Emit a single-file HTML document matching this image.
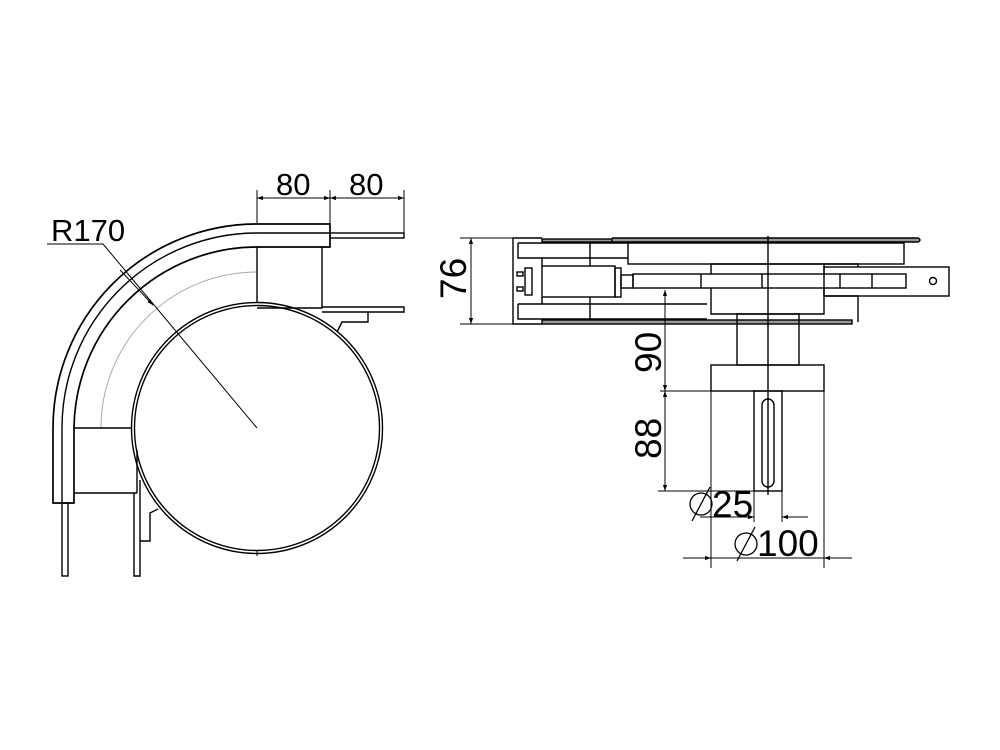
<!DOCTYPE html>
<html><head><meta charset="utf-8"><style>
html,body{margin:0;padding:0;background:#fff}
svg{display:block}
text{font-family:"Liberation Sans",sans-serif;fill:#000}
</style></head><body>
<svg width="1000" height="750" viewBox="0 0 1000 750" xmlns="http://www.w3.org/2000/svg">
<defs>
<marker id="a" viewBox="0 0 10 10" refX="10" refY="5" markerWidth="10" markerHeight="6" orient="auto-start-reverse" markerUnits="userSpaceOnUse"><path d="M0,1.5 L10,5 L0,8.5 z" fill="#000"/></marker>
</defs>
<g fill="none" stroke="#000" stroke-width="1.4">
<!-- LEFT VIEW -->
<path d="M53,503 L53,428 A204,204 0 0 1 257,224 L330,224 L330,247 L257,247 A183,183 0 0 0 74,428 L74,503 Z" stroke-width="1.7"/>
<path d="M62,503 L62,428 A195,195 0 0 1 257,233 L330,233"/>
<path d="M101,428 A156,156 0 0 1 257,272" stroke="#aaa" stroke-width="1"/>
<circle cx="257" cy="428" r="125.5"/>
<circle cx="257" cy="428" r="122.5"/>
<line x1="257" y1="247" x2="257" y2="303"/>
<path d="M322,247 L322,308 L257,308"/>
<rect x="330" y="233" width="74" height="5"/>
<path d="M322,307 L404,307 L404,312 L322,312"/>
<path d="M368,312 L368,322 L342,322 L337,332"/>
<path d="M74,428 L132,428 M74,493 L137,493 M137,450 L137,493"/>
<rect x="62" y="503" width="6" height="73"/>
<path d="M134,493 L134,576 L140,576 L140,480"/>
<path d="M140,541 L150,541 L150,513 L158,509"/>
<line x1="257" y1="550" x2="257" y2="556" stroke-width="1"/>
<!-- dims left -->
<line x1="257" y1="190" x2="257" y2="223" stroke-width="1"/>
<line x1="330" y1="190" x2="330" y2="223" stroke-width="1"/>
<line x1="404" y1="190" x2="404" y2="233" stroke-width="1"/>
<line x1="257" y1="198" x2="330" y2="198" stroke-width="1" marker-start="url(#a)" marker-end="url(#a)"/>
<line x1="330" y1="198" x2="404" y2="198" stroke-width="1" marker-start="url(#a)" marker-end="url(#a)"/>
<polyline points="47,244 103,244 257,428" stroke-width="1"/>
<line x1="120" y1="270" x2="153" y2="305" stroke-width="1" marker-end="url(#a)"/>

<!-- RIGHT VIEW -->
<path d="M612,238 L918,238 Q922,240 918,242 L612,242" fill="#999"/>
<rect x="542" y="239" width="70" height="3" fill="#999"/>
<rect x="542" y="320" width="310" height="4" fill="#999"/>
<path d="M513,238 L542,238 M513,238 L513,324 L542,324"/>
<path d="M518,243 L518,258 L628,258 M518,243 L590,243 M590,243 L590,258 M590,243 L628,243"/>
<rect x="628" y="243" width="276" height="21"/>
<path d="M518,304 L518,319 L707,319 M518,304 L707,304 M590,304 L590,319"/>
<rect x="542" y="266" width="73" height="31"/>
<rect x="615" y="268" width="6" height="29"/>
<rect x="525" y="268" width="7" height="27"/>
<rect x="517" y="272" width="6" height="4"/>
<rect x="517" y="287" width="6" height="4"/>
<path d="M542,258 L542,266 M542,297 L542,304 M590,258 L590,266 M590,297 L590,304"/>
<rect x="621" y="275" width="12" height="13"/>
<rect x="633" y="274" width="273" height="14"/>
<path d="M701,274 V288 M762,274 V288 M840,274 V288 M872,274 V288"/>
<path d="M711,274 L711,264 L824,264 L824,274 M711,288 L711,314 L824,314 L824,288"/>
<rect x="824" y="267" width="125" height="29"/>
<circle cx="933" cy="281" r="3.5"/>
<path d="M824,296 L858,296 L858,322 M824,264 L858,264 L858,267"/>
<rect x="737" y="314" width="62" height="51"/>
<rect x="711" y="365" width="113" height="26"/>
<rect x="754" y="391" width="28" height="100"/>
<rect x="762" y="399" width="12" height="88" rx="6"/>
<line x1="768" y1="236" x2="768" y2="495"/>
<path d="M711,391 L711,568 M824,391 L824,568" stroke-width="1"/>
<path d="M754,491 L754,522 M782,491 L782,522" stroke-width="1"/>
<!-- dims right -->
<path d="M460,238 L513,238 M460,324 L513,324" stroke-width="1"/>
<line x1="471" y1="238" x2="471" y2="324" stroke-width="1" marker-start="url(#a)" marker-end="url(#a)"/>
<path d="M660,391 L711,391 M658,491 L754,491" stroke-width="1"/>
<line x1="665" y1="290" x2="665" y2="391" stroke-width="1" marker-start="url(#a)" marker-end="url(#a)"/>
<line x1="665" y1="391" x2="665" y2="491" stroke-width="1" marker-start="url(#a)" marker-end="url(#a)"/>
<line x1="700" y1="517" x2="754" y2="517" stroke-width="1" marker-end="url(#a)"/>
<line x1="808" y1="517" x2="782" y2="517" stroke-width="1" marker-end="url(#a)"/>
<line x1="683" y1="558" x2="711" y2="558" stroke-width="1" marker-end="url(#a)"/>
<line x1="711" y1="558" x2="824" y2="558" stroke-width="1"/>
<line x1="852" y1="558" x2="824" y2="558" stroke-width="1" marker-end="url(#a)"/>
<!-- phi symbols -->
<circle cx="701" cy="504" r="11" stroke-width="1.3"/>
<line x1="692" y1="521" x2="710" y2="487" stroke-width="1.3"/>
<circle cx="746" cy="544" r="11" stroke-width="1.3"/>
<line x1="737" y1="561" x2="755" y2="527" stroke-width="1.3"/>
</g>
<text x="276" y="195" font-size="31">80</text>
<text x="349" y="195" font-size="31">80</text>
<text x="51" y="241" font-size="31">R170</text>
<text font-size="37" transform="translate(466,299) rotate(-90)">76</text>
<text font-size="37" transform="translate(661,373) rotate(-90)">90</text>
<text font-size="37" transform="translate(661,459) rotate(-90)">88</text>
<text x="712" y="517" font-size="37">25</text>
<text x="757" y="556" font-size="37">100</text>
</svg>
</body></html>
